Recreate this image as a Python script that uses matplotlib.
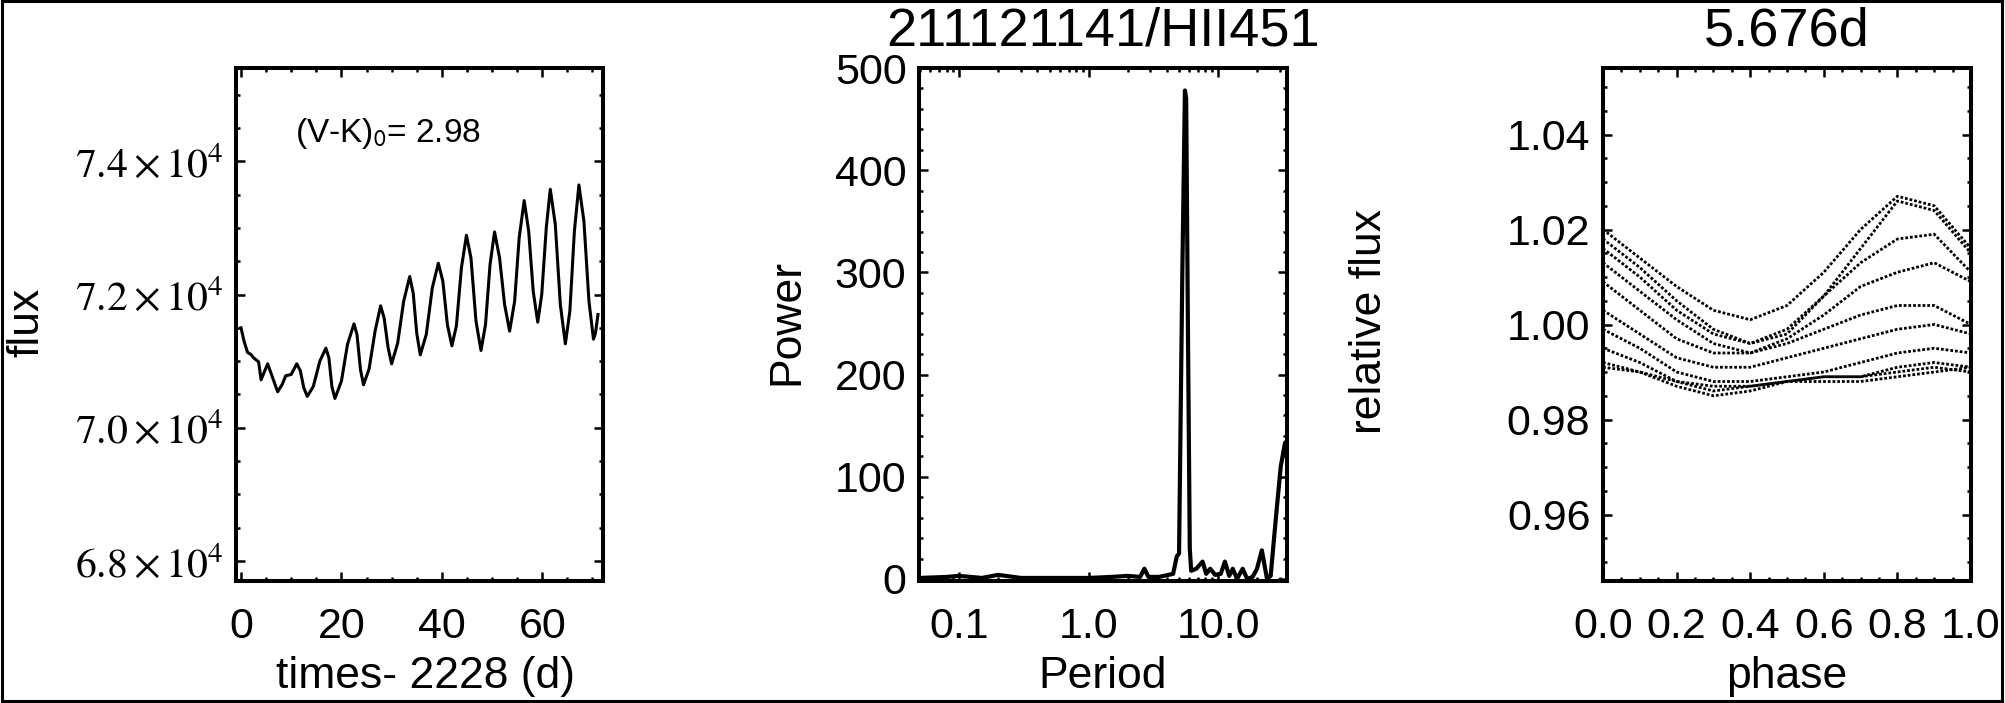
import matplotlib
matplotlib.use("Agg")
import matplotlib.pyplot as plt
from matplotlib.ticker import MultipleLocator, FixedLocator, FuncFormatter, LogLocator, NullFormatter
from matplotlib.patches import Rectangle

plt.rcParams["font.family"] = ["Liberation Sans", "DejaVu Sans"]
plt.rcParams["mathtext.fontset"] = "stix"

# light curve
lc_time = [0.0, 0.6, 1.3, 2.0, 2.5, 3.5, 4.0, 5.3, 6.3, 7.3, 8.2, 8.9, 10.0, 11.1,
           11.8, 12.5, 13.2, 14.4, 15.7, 16.9, 17.5, 18.1, 18.7, 20.0, 21.2, 22.5,
           23.1, 23.8, 24.4, 25.5, 26.7, 27.8, 28.5, 29.3, 30.0, 31.2, 32.4, 33.6,
           34.3, 35.0, 35.7, 36.9, 38.1, 39.3, 40.2, 41.1, 42.0, 42.9, 43.9, 44.9,
           45.8, 46.8, 47.8, 48.7, 49.6, 50.5, 51.5, 52.5, 53.5, 54.5, 55.4, 56.4,
           57.3, 58.2, 59.1, 59.9, 60.8, 61.6, 62.6, 63.6, 64.6, 65.5, 66.4, 67.3,
           68.3, 69.3, 70.2, 70.6, 71.1]
lc_flux = [71500, 71300, 71130, 71100, 71050, 70990, 70720, 70960, 70750, 70540,
           70650, 70780, 70800, 70960,
           70860, 70600, 70470, 70620, 71000, 71195, 71050, 70620, 70440, 70700,
           71250, 71560, 71400, 70870, 70645, 70880, 71450, 71830, 71650, 71200,
           70960, 71270, 71900, 72270, 72020, 71420, 71095, 71400, 72100, 72470,
           72200, 71550, 71230, 71530, 72400, 72890, 72550, 71600, 71160, 71550,
           72450, 72940, 72550, 71850, 71450, 71900, 72850, 73410, 72950, 72050,
           71585, 72000, 73000, 73580, 73050, 71850, 71260, 71750, 72950, 73645,
           73100, 71900, 71330, 71420, 71700]

# periodogram
per_period = [0.05, 0.08, 0.1, 0.15, 0.2, 0.3, 0.5, 1.0, 1.5, 2.0, 2.5, 2.7, 2.9,
              3.5, 4.5, 4.8, 5.0, 5.3, 5.55, 5.676, 5.85, 6.05, 6.2, 6.8, 7.6, 8.1,
              8.7, 9.5, 10.5, 11.3, 12.2, 13.0, 14.0, 15.5, 16.8, 18.5, 20.0, 21.8,
              23.9, 25.5, 28.0, 30.5, 32.9, 34.0]
per_power = [1, 2, 3, 1, 4, 1, 1, 1, 2, 3, 2, 10, 2, 2, 5, 22, 25, 300, 478, 470,
             250, 30, 8, 10, 17, 5, 10, 4, 5, 17, 3, 10, 0, 10, 0, 2, 10, 28,
             0, 3, 60, 110, 133, 135]

# phase-folded cycles
phase = [0.0, 0.1, 0.2, 0.3, 0.4, 0.5, 0.6, 0.7, 0.8, 0.9, 1.0]
cycles = [
    [1.020, 1.014, 1.008, 1.003, 1.001, 1.004, 1.011, 1.020, 1.027, 1.025, 1.016],
    [1.018, 1.012, 1.005, 0.999, 0.996, 0.998, 1.006, 1.016, 1.026, 1.024, 1.015],
    [1.016, 1.010, 1.003, 0.998, 0.996, 0.999, 1.006, 1.013, 1.018, 1.019, 1.011],
    [1.013, 1.007, 1.001, 0.996, 0.994, 0.997, 1.002, 1.008, 1.011, 1.013, 1.009],
    [1.009, 1.003, 0.997, 0.994, 0.994, 0.996, 0.999, 1.002, 1.004, 1.004, 1.000],
    [1.003, 0.998, 0.993, 0.991, 0.991, 0.993, 0.995, 0.997, 0.999, 1.000, 0.998],
    [0.999, 0.995, 0.990, 0.988, 0.988, 0.989, 0.990, 0.992, 0.994, 0.995, 0.994],
    [0.995, 0.992, 0.988, 0.986, 0.987, 0.988, 0.989, 0.989, 0.991, 0.992, 0.991],
    [0.992, 0.990, 0.987, 0.985, 0.986, 0.988, 0.988, 0.988, 0.989, 0.990, 0.991],
    [0.991, 0.990, 0.988, 0.987, 0.987, 0.988, 0.989, 0.989, 0.990, 0.991, 0.990],
]

W, H = 2005, 703
fig = plt.figure(figsize=(W / 100, H / 100), dpi=100)
bot = 1 - 581 / H
hgt = (581 - 68) / H
ax1 = fig.add_axes([236 / W, bot, 367 / W, hgt])
ax2 = fig.add_axes([919 / W, bot, 368 / W, hgt])
ax3 = fig.add_axes([1603 / W, bot, 368 / W, hgt])

TICK = 31
for ax in (ax1, ax2, ax3):
    for s in ax.spines.values():
        s.set_linewidth(2.9)
    ax.tick_params(which="both", direction="in", top=True, right=True, width=1.8)
    ax.tick_params(which="major", length=6.5, labelsize=TICK)
    ax.tick_params(which="minor", length=3.2)
    ax.tick_params(axis="x", pad=19)
    ax.tick_params(axis="y", pad=9)

# panel 1: light curve
ax1.plot(lc_time, lc_flux, color="black", lw=2.2)
ax1.set_xlim(-1, 72.1)
ax1.set_ylim(67700, 75400)
ax1.xaxis.set_major_locator(MultipleLocator(20))
ax1.xaxis.set_minor_locator(MultipleLocator(5))
ax1.yaxis.set_major_locator(MultipleLocator(2000))
ax1.yaxis.set_minor_locator(MultipleLocator(500))
ax1.yaxis.set_major_formatter(FuncFormatter(
    lambda v, p: r"$\mathrm{%.1f\times10^{4}}$" % (v / 1e4)))
ax1.tick_params(axis="y", labelsize=30)
fig.text(295 / W, 1 - 142 / H, r"(V-K)$_\mathsf{0}$= 2.98", fontsize=24,
         ha="left", va="baseline")

# panel 2: periodogram
ax2.plot(per_period, per_power, color="black", lw=3)
ax2.set_xscale("log")
ax2.set_xlim(0.049, 34.1)
ax2.set_ylim(-2, 500)
ax2.xaxis.set_major_locator(FixedLocator([0.1, 1.0, 10.0]))
ax2.xaxis.set_major_formatter(FuncFormatter(lambda v, p: "%.1f" % v))
ax2.xaxis.set_minor_locator(LogLocator(base=10, subs=range(2, 10)))
ax2.xaxis.set_minor_formatter(NullFormatter())
ax2.yaxis.set_major_locator(MultipleLocator(100))
ax2.yaxis.set_minor_locator(MultipleLocator(20))

# panel 3: phased light curve
for c in cycles:
    ax3.plot(phase, c, color="black", lw=2.0, ls=(0, (1.0, 0.7)))
ax3.set_xlim(0, 1)
ax3.set_ylim(0.946, 1.054)
ax3.xaxis.set_major_locator(MultipleLocator(0.2))
ax3.xaxis.set_minor_locator(MultipleLocator(0.05))
ax3.xaxis.set_major_formatter(FuncFormatter(lambda v, p: "%.1f" % v))
ax3.yaxis.set_major_locator(MultipleLocator(0.02))
ax3.yaxis.set_minor_locator(MultipleLocator(0.005))
ax3.yaxis.set_major_formatter(FuncFormatter(lambda v, p: "%.2f" % v))

# axis labels and titles
LAB = 32
ymid = 1 - 322 / H
fig.text(38 / W, ymid, "flux", rotation=90, rotation_mode="anchor",
         ha="center", va="baseline", fontsize=LAB)
fig.text(798 / W, ymid, "Power", rotation=90, rotation_mode="anchor",
         ha="center", va="baseline", fontsize=LAB)
fig.text(1381 / W, ymid, "relative flux", rotation=90, rotation_mode="anchor",
         ha="center", va="baseline", fontsize=LAB)
xbase = 1 - 688 / H
fig.text(425 / W, xbase, "times- 2228 (d)", ha="center", va="baseline", fontsize=LAB)
fig.text(1103 / W, xbase, "Period", ha="center", va="baseline", fontsize=LAB)
fig.text(1787 / W, xbase, "phase", ha="center", va="baseline", fontsize=LAB)
tbase = 1 - 46 / H
fig.text(1103 / W, tbase, "211121141/HII451", ha="center", va="baseline", fontsize=39)
fig.text(1787 / W, tbase, "5.676d", ha="center", va="baseline", fontsize=39)

# outer frame
fig.add_artist(Rectangle((1.5 / W, 1 - 701 / H), 2000.5 / W, 700 / H,
                         transform=fig.transFigure, fill=False, lw=2.2,
                         edgecolor="black"))

fig.savefig("out.png", dpi=100)
